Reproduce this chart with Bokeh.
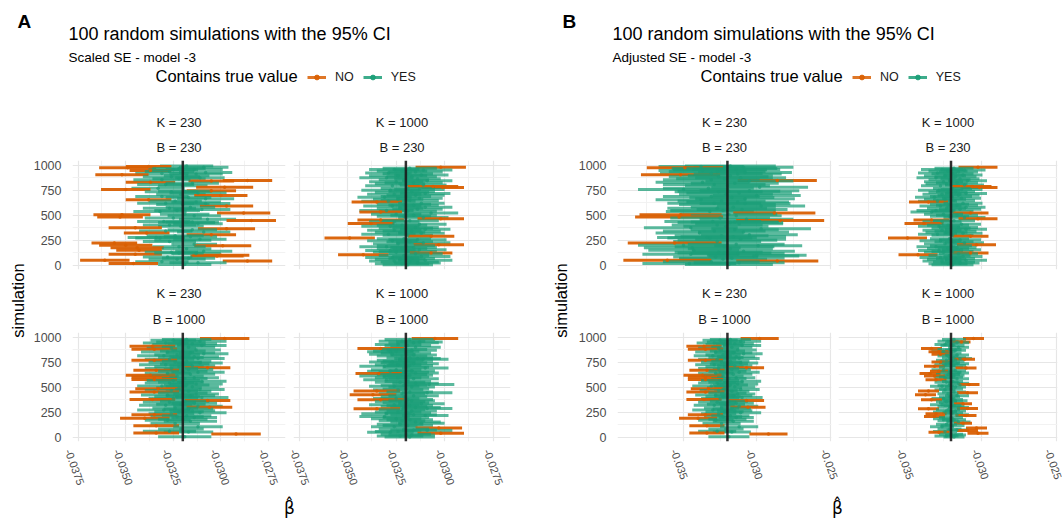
import numpy as np
from bokeh.plotting import figure
from bokeh.layouts import row, column
from bokeh.models import (ColumnDataSource, Range1d, FixedTicker, NumeralTickFormatter,
                          Span, Legend, LegendItem)
from bokeh.core.properties import value
from bokeh.embed import file_html
from bokeh.resources import INLINE

# ---------------------------------------------------------------- data
TRUE_VALUE = -0.0320
K_LEVELS = ["230", "1000", "230", "1000"]
B_LEVELS = ["230", "230", "1000", "1000"]
A_TICKS = [-0.0375, -0.0350, -0.0325, -0.0300, -0.0275]
A_MINOR = [-0.03625, -0.03375, -0.03125, -0.02875]
B_TICKS = [-0.035, -0.030, -0.025]
B_MINOR = [-0.0375, -0.0325, -0.0275]
Y_TICKS = [0, 250, 500, 750, 1000]
Y_MINOR = [125, 375, 625, 875]

# K = 230, B = 230
sim_k230_b230 = [995, 990, 982, 977, 970, 961, 950, 941, 930, 921, 907, 898, 888, 876, 866, 850, 845, 833, 822, 810,
                 798, 783, 772, 760, 748, 737, 725, 713, 700, 690, 679, 668, 657, 645, 634, 622, 610, 593, 582, 571,
                 560, 549, 538, 523, 512, 507, 496, 483, 474, 462, 450, 440, 428, 417, 405, 392, 377, 366, 355, 344,
                 333, 323, 307, 296, 285, 273, 262, 250, 238, 223, 212, 200, 196, 186, 177, 166, 150, 140, 130, 118,
                 110, 100, 93, 82, 71, 60, 50, 44, 35, 26, 17, 9, 958, 915, 858, 742, 618, 435, 279, 124]
est_k230_b230 = [-0.0318, -0.0338, -0.0309, -0.0349, -0.0322, -0.0314, -0.0337, -0.0327, -0.0308, -0.0331,
                 -0.0352, -0.0318, -0.0326, -0.0311, -0.0322, -0.0286, -0.0305, -0.0337, -0.0315, -0.0329,
                 -0.0320, -0.0298, -0.0333, -0.0350, -0.0305, -0.0326, -0.0312, -0.0321, -0.0300, -0.0331,
                 -0.0317, -0.0308, -0.0338, -0.0324, -0.0313, -0.0329, -0.0320, -0.0297, -0.0316, -0.0327,
                 -0.0310, -0.0323, -0.0332, -0.0288, -0.0319, -0.0352, -0.0314, -0.0353, -0.0325, -0.0307,
                 -0.0284, -0.0330, -0.0318, -0.0312, -0.0327, -0.0321, -0.0345, -0.0297, -0.0315, -0.0329,
                 -0.0309, -0.0339, -0.0305, -0.0324, -0.0316, -0.0332, -0.0311, -0.0320, -0.0327, -0.0356,
                 -0.0314, -0.0350, -0.0299, -0.0322, -0.0344, -0.0318, -0.0343, -0.0309, -0.0326, -0.0313,
                 -0.0345, -0.0300, -0.0302, -0.0328, -0.0317, -0.0323, -0.0361, -0.0286, -0.0331, -0.0312,
                 -0.0346, -0.0319, -0.0325, -0.0313, -0.0331, -0.0319, -0.0308, -0.0315, -0.0334, -0.0322]
half_scaled_k230_b230 = [.0014, .0012, .0013, .0015, .0014, .0015, .0011, .0013, .0014, .0014,
                         .0014, .0012, .0015, .0013, .0014, .0013, .0012, .0013, .0014, .0015,
                         .0013, .0015, .0014, .0013, .0013, .0014, .0015, .0013, .0014, .0014,
                         .0012, .0015, .0012, .0014, .0013, .0015, .0014, .0014, .0013, .0014,
                         .0015, .0012, .0014, .0014, .0013, .0015, .0014, .0012, .0015, .0015,
                         .0013, .0014, .0015, .0013, .0014, .0012, .0014, .0015, .0013, .0014,
                         .0014, .0012, .0013, .0015, .0014, .0013, .0014, .0015, .0014, .0012,
                         .0012, .0014, .0015, .0014, .0014, .0013, .0012, .0015, .0014, .0013,
                         .0014, .0015, .0014, .0013, .0014, .0015, .0013, .0013, .0014, .0015,
                         .0013, .0014, .0013, .0014, .0015, .0014, .0013, .0014, .0015, .0013]
half_adjusted_k230_b230 = [.0031, .0029, .0034, .0026, .0036, .0030, .0030, .0033, .0032, .0035,
                           .0027, .0029, .0034, .0031, .0033, .0027, .0030, .0032, .0030, .0035,
                           .0029, .0033, .0031, .0031, .0034, .0030, .0036, .0032, .0030, .0033,
                           .0029, .0034, .0031, .0030, .0035, .0032, .0033, .0030, .0029, .0034,
                           .0031, .0036, .0030, .0028, .0033, .0028, .0031, .0030, .0034, .0032,
                           .0030, .0033, .0036, .0030, .0031, .0029, .0032, .0034, .0030, .0035,
                           .0031, .0030, .0033, .0032, .0036, .0029, .0031, .0034, .0030, .0032,
                           .0033, .0031, .0030, .0034, .0033, .0029, .0031, .0035, .0030, .0032,
                           .0033, .0034, .0031, .0029, .0036, .0030, .0030, .0028, .0033, .0031,
                           .0032, .0030, .0032, .0030, .0033, .0035, .0031, .0030, .0034, .0032]

# K = 1000, B = 230
sim_k1000_b230 = [983, 972, 961, 955, 944, 936, 925, 917, 905, 896, 887, 876, 868, 858, 846, 838, 827, 816, 805, 797,
                  790, 780, 770, 760, 751, 740, 731, 720, 712, 701, 690, 681, 672, 661, 650, 641, 633, 622, 612, 601,
                  593, 582, 571, 562, 550, 541, 533, 523, 512, 502, 491, 480, 467, 455, 446, 437, 420, 411, 402, 391,
                  380, 372, 361, 351, 340, 331, 320, 310, 300, 290, 273, 265, 255, 246, 236, 226, 216, 207, 197, 187,
                  178, 168, 157, 148, 138, 130, 123, 115, 107, 98, 88, 78, 69, 60, 51, 42, 33, 24, 15, 6]
est_k1000_b230 = [-0.0302, -0.0318, -0.0326, -0.0311, -0.0322, -0.0315, -0.0329, -0.0319, -0.0312, -0.0324,
                  -0.0317, -0.0330, -0.0314, -0.0321, -0.0309, -0.0325, -0.0316, -0.0323, -0.0311, -0.0327,
                  -0.0306, -0.0301, -0.0319, -0.0313, -0.0328, -0.0317, -0.0322, -0.0310, -0.0326, -0.0315,
                  -0.0320, -0.0331, -0.0313, -0.0324, -0.0318, -0.0329, -0.0335, -0.0312, -0.0321, -0.0316,
                  -0.0327, -0.0310, -0.0323, -0.0314, -0.0330, -0.0319, -0.0333, -0.0307, -0.0325, -0.0316,
                  -0.0321, -0.0311, -0.0302, -0.0333, -0.0318, -0.0326, -0.0338, -0.0313, -0.0322, -0.0328,
                  -0.0315, -0.0320, -0.0310, -0.0326, -0.0317, -0.0323, -0.0312, -0.0329, -0.0319, -0.0307,
                  -0.0349, -0.0321, -0.0314, -0.0327, -0.0318, -0.0311, -0.0324, -0.0303, -0.0320, -0.0330,
                  -0.0316, -0.0322, -0.0313, -0.0328, -0.0319, -0.0325, -0.0307, -0.0315, -0.0342, -0.0321,
                  -0.0312, -0.0327, -0.0317, -0.0323, -0.0310, -0.0326, -0.0318, -0.0314, -0.0322, -0.0319]
half_scaled_k1000_b230 = [.0013, .0014, .0013, .0015, .0013, .0014, .0012, .0013, .0014, .0015,
                          .0013, .0014, .0012, .0013, .0013, .0014, .0015, .0013, .0012, .0014,
                          .0013, .0011, .0014, .0013, .0015, .0012, .0014, .0013, .0014, .0015,
                          .0013, .0014, .0012, .0013, .0015, .0014, .0013, .0012, .0014, .0013,
                          .0015, .0014, .0012, .0013, .0014, .0015, .0011, .0014, .0013, .0012,
                          .0014, .0013, .0012, .0012, .0015, .0013, .0012, .0014, .0013, .0015,
                          .0012, .0014, .0013, .0014, .0015, .0013, .0012, .0014, .0013, .0012,
                          .0013, .0014, .0015, .0013, .0012, .0014, .0013, .0013, .0015, .0014,
                          .0012, .0013, .0014, .0013, .0015, .0012, .0011, .0014, .0013, .0013,
                          .0015, .0014, .0012, .0013, .0014, .0013, .0015, .0012, .0014, .0013]
half_adjusted_k1000_b230 = [.0013, .0013, .0014, .0014, .0013, .0013, .0013, .0014, .0013, .0014,
                            .0014, .0013, .0013, .0014, .0013, .0013, .0014, .0014, .0013, .0013,
                            .0013, .0012, .0013, .0014, .0014, .0013, .0013, .0014, .0013, .0014,
                            .0014, .0013, .0013, .0014, .0014, .0013, .0013, .0013, .0013, .0014,
                            .0014, .0013, .0013, .0014, .0013, .0014, .0014, .0012, .0013, .0014,
                            .0013, .0014, .0013, .0012, .0014, .0013, .0013, .0013, .0014, .0014,
                            .0013, .0013, .0014, .0013, .0014, .0014, .0013, .0013, .0014, .0012,
                            .0013, .0013, .0014, .0014, .0013, .0013, .0014, .0013, .0014, .0013,
                            .0013, .0014, .0013, .0014, .0014, .0013, .0012, .0013, .0013, .0014,
                            .0013, .0014, .0013, .0013, .0014, .0013, .0014, .0013, .0013, .0014]

# K = 230, B = 1000
sim_k230_b1000 = [990, 981, 972, 963, 955, 946, 938, 929, 921, 913, 903, 893, 883, 874, 864, 855, 846, 836, 827, 818,
                  808, 799, 790, 781, 772, 763, 753, 744, 735, 726, 716, 707, 698, 689, 680, 671, 661, 652, 642, 632,
                  621, 613, 605, 596, 588, 580, 570, 561, 552, 543, 534, 524, 515, 506, 496, 487, 478, 470, 461, 453,
                  444, 434, 425, 416, 407, 398, 388, 379, 369, 360, 351, 341, 332, 322, 312, 302, 293, 284, 274, 265,
                  255, 246, 236, 225, 216, 207, 199, 191, 181, 171, 160, 139, 117, 106, 84, 61, 52, 44, 34, 5]
est_k230_b1000 = [-0.0298, -0.0318, -0.0325, -0.0311, -0.0321, -0.0329, -0.0315, -0.0322, -0.0310, -0.0336,
                  -0.0317, -0.0326, -0.0335, -0.0313, -0.0320, -0.0328, -0.0316, -0.0309, -0.0323, -0.0330,
                  -0.0314, -0.0321, -0.0312, -0.0327, -0.0335, -0.0318, -0.0324, -0.0311, -0.0319, -0.0329,
                  -0.0315, -0.0322, -0.0307, -0.0326, -0.0317, -0.0334, -0.0320, -0.0312, -0.0328, -0.0316,
                  -0.0337, -0.0323, -0.0335, -0.0314, -0.0319, -0.0335, -0.0325, -0.0310, -0.0321, -0.0327,
                  -0.0313, -0.0318, -0.0331, -0.0315, -0.0322, -0.0333, -0.0311, -0.0326, -0.0317, -0.0335,
                  -0.0320, -0.0313, -0.0328, -0.0316, -0.0323, -0.0310, -0.0325, -0.0336, -0.0307, -0.0319,
                  -0.0327, -0.0314, -0.0321, -0.0329, -0.0312, -0.0306, -0.0324, -0.0317, -0.0330, -0.0315,
                  -0.0322, -0.0311, -0.0326, -0.0335, -0.0318, -0.0323, -0.0314, -0.0340, -0.0320, -0.0328,
                  -0.0316, -0.0324, -0.0334, -0.0312, -0.0321, -0.0327, -0.0317, -0.0334, -0.0292, -0.0319]
half_scaled_k230_b1000 = [.0013, .0013, .0012, .0014, .0013, .0012, .0013, .0014, .0013, .0012,
                          .0014, .0013, .0012, .0013, .0012, .0014, .0013, .0013, .0012, .0014,
                          .0013, .0012, .0014, .0013, .0012, .0013, .0014, .0012, .0013, .0014,
                          .0012, .0013, .0012, .0014, .0013, .0012, .0013, .0014, .0012, .0013,
                          .0013, .0014, .0012, .0013, .0012, .0012, .0014, .0013, .0012, .0013,
                          .0014, .0012, .0013, .0014, .0012, .0012, .0013, .0014, .0012, .0013,
                          .0013, .0012, .0014, .0013, .0012, .0014, .0013, .0012, .0012, .0013,
                          .0014, .0012, .0013, .0014, .0013, .0012, .0012, .0013, .0014, .0012,
                          .0013, .0014, .0012, .0012, .0013, .0014, .0012, .0013, .0013, .0012,
                          .0014, .0013, .0012, .0013, .0012, .0014, .0013, .0012, .0013, .0014]
half_adjusted_k230_b1000 = [.0013, .0014, .0012, .0014, .0013, .0012, .0013, .0013, .0013, .0012,
                            .0014, .0014, .0012, .0013, .0012, .0014, .0013, .0013, .0012, .0013,
                            .0013, .0012, .0014, .0013, .0012, .0013, .0014, .0012, .0013, .0013,
                            .0012, .0013, .0012, .0014, .0013, .0012, .0013, .0014, .0012, .0013,
                            .0013, .0014, .0012, .0013, .0012, .0012, .0013, .0013, .0012, .0013,
                            .0014, .0012, .0013, .0014, .0012, .0012, .0013, .0013, .0012, .0013,
                            .0013, .0012, .0014, .0013, .0012, .0014, .0013, .0012, .0012, .0013,
                            .0013, .0012, .0013, .0014, .0013, .0012, .0012, .0013, .0014, .0012,
                            .0013, .0014, .0012, .0012, .0013, .0013, .0012, .0013, .0013, .0012,
                            .0014, .0013, .0012, .0013, .0012, .0013, .0013, .0012, .0013, .0014]

# K = 1000, B = 1000
sim_k1000_b1000 = [990, 980, 963, 956, 947, 929, 920, 902, 889, 880, 871, 863, 856, 845, 832, 824, 815, 797, 789, 782,
                   772, 763, 755, 746, 737, 728, 719, 711, 703, 695, 677, 668, 661, 652, 645, 638, 630, 622, 614, 605,
                   596, 587, 577, 560, 551, 541, 530, 521, 512, 503, 485, 476, 463, 455, 446, 436, 426, 417, 407, 389,
                   380, 376, 366, 357, 346, 336, 327, 318, 308, 298, 289, 285, 275, 264, 254, 244, 235, 226, 218, 208,
                   198, 187, 176, 165, 153, 141, 130, 118, 106, 94, 83, 74, 67, 58, 50, 40, 31, 22, 12, 4]
est_k1000_b1000 = [-0.0305, -0.0318, -0.0322, -0.0313, -0.0316, -0.0324, -0.0319, -0.0315, -0.0333, -0.0321,
                   -0.0317, -0.0325, -0.0328, -0.0320, -0.0327, -0.0316, -0.0322, -0.0318, -0.0314, -0.0311,
                   -0.0323, -0.0319, -0.0327, -0.0321, -0.0316, -0.0324, -0.0318, -0.0331, -0.0320, -0.0310,
                   -0.0325, -0.0317, -0.0328, -0.0321, -0.0315, -0.0334, -0.0322, -0.0318, -0.0331, -0.0320,
                   -0.0324, -0.0316, -0.0330, -0.0319, -0.0323, -0.0315, -0.0308, -0.0321, -0.0326, -0.0317,
                   -0.0320, -0.0324, -0.0335, -0.0318, -0.0309, -0.0322, -0.0337, -0.0316, -0.0321, -0.0325,
                   -0.0319, -0.0333, -0.0317, -0.0323, -0.0320, -0.0312, -0.0326, -0.0318, -0.0321, -0.0315,
                   -0.0309, -0.0335, -0.0322, -0.0317, -0.0324, -0.0319, -0.0330, -0.0316, -0.0310, -0.0331,
                   -0.0320, -0.0325, -0.0318, -0.0322, -0.0315, -0.0312, -0.0323, -0.0319, -0.0326, -0.0303,
                   -0.0321, -0.0316, -0.0309, -0.0324, -0.0328, -0.0302, -0.0320, -0.0317, -0.0323, -0.0318]
half_scaled_k1000_b1000 = [.0012, .0013, .0012, .0012, .0013, .0012, .0012, .0013, .0012, .0012,
                           .0013, .0012, .0012, .0013, .0012, .0012, .0013, .0012, .0012, .0013,
                           .0012, .0013, .0012, .0012, .0013, .0012, .0012, .0013, .0012, .0012,
                           .0013, .0012, .0012, .0013, .0012, .0012, .0013, .0012, .0013, .0012,
                           .0012, .0013, .0012, .0012, .0013, .0012, .0013, .0012, .0013, .0012,
                           .0012, .0013, .0012, .0012, .0013, .0012, .0012, .0013, .0012, .0012,
                           .0013, .0012, .0012, .0013, .0012, .0012, .0013, .0012, .0012, .0013,
                           .0013, .0012, .0012, .0013, .0012, .0012, .0013, .0012, .0012, .0013,
                           .0012, .0013, .0012, .0012, .0013, .0012, .0012, .0013, .0012, .0012,
                           .0013, .0012, .0013, .0012, .0012, .0012, .0013, .0012, .0012, .0013]
half_adjusted_k1000_b1000 = [.0007, .0008, .0007, .0006, .0008, .0007, .0008, .0007, .0007, .0008,
                             .0007, .0008, .0007, .0007, .0006, .0008, .0007, .0008, .0008, .0007,
                             .0007, .0008, .0006, .0007, .0008, .0007, .0008, .0007, .0008, .0007,
                             .0008, .0007, .0006, .0008, .0007, .0007, .0008, .0007, .0007, .0008,
                             .0007, .0008, .0007, .0007, .0008, .0007, .0007, .0008, .0008, .0007,
                             .0008, .0007, .0007, .0008, .0007, .0007, .0007, .0008, .0007, .0008,
                             .0007, .0007, .0008, .0007, .0008, .0006, .0008, .0007, .0008, .0007,
                             .0007, .0007, .0008, .0007, .0008, .0007, .0007, .0008, .0007, .0007,
                             .0008, .0007, .0008, .0007, .0008, .0006, .0007, .0008, .0008, .0007,
                             .0008, .0007, .0007, .0008, .0007, .0007, .0008, .0007, .0008, .0007]

SIMS = [sim_k230_b230, sim_k1000_b230, sim_k230_b1000, sim_k1000_b1000]
ESTS = [est_k230_b230, est_k1000_b230, est_k230_b1000, est_k1000_b1000]
HALF_SCALED = [half_scaled_k230_b230, half_scaled_k1000_b230, half_scaled_k230_b1000, half_scaled_k1000_b1000]
HALF_ADJUSTED = [half_adjusted_k230_b230, half_adjusted_k1000_b230, half_adjusted_k230_b1000, half_adjusted_k1000_b1000]
for group in (SIMS, ESTS, HALF_SCALED, HALF_ADJUSTED):
    for arr in group:
        assert len(arr) == 100, len(arr)

# ---------------------------------------------------------------- style
GREEN = "#1B9E77"
ORANGE = "#D95F02"
FONT = "Liberation Sans"
TICK_COL = "#4D4D4D"
TEXT_COL = "#1A1A1A"
NAN = float("nan")
LABEL_NUDGE_PX = 6   # rotated x tick labels sit centred under their tick, as in the reference

PANELS = [
    dict(letter="A", subtitle="Scaled SE - model -3", halves=HALF_SCALED,
         xr=(-0.0378, -0.0266), ticks=A_TICKS, minor=A_MINOR, fmt="0.0000",
         ylab_w=30, ylab_cx=17, widths=[259, 242], bl=[38, 4], br=[4, 21], frame_w=217,
         ax_widths=[259, 242], ax_bl=[38, 4], ax_br=[4, 21], ax_shift=[0, 0],
         letter_x=17, title_x=68, leg_title_x=155, leg_x=307, xlab_cx=289),
    dict(letter="B", subtitle="Adjusted SE - model -3", halves=HALF_ADJUSTED,
         xr=(-0.0395, -0.0249), ticks=B_TICKS, minor=B_MINOR, fmt="0.000",
         ylab_w=44, ylab_cx=29, widths=[259, 228], bl=[37, 4], br=[3, 5], frame_w=219,
         ax_widths=[275, 212], ax_bl=[37, 0], ax_br=[19, 5], ax_shift=[0, 12],
         letter_x=31, title_x=81, leg_title_x=169, leg_x=321, xlab_cx=306),
]
PW = 531
STRIP_H = [44, 46]          # strip heights (top row, bottom row)
STRIP_K_Y = [12, 13]        # centre of "K = ..." from strip top
STRIP_B_Y = [37, 39]        # centre of "B = ..." from strip top
FACET_H = [126, 120]


def blank(width, height):
    p = figure(width=width, height=height, x_range=Range1d(0, width), y_range=Range1d(0, height),
               output_backend="svg", toolbar_location=None, title=None,
               x_axis_location=None, y_axis_location=None, min_border=0)
    p.grid.visible = False
    p.outline_line_color = None
    return p


def put_text(p, x, y, text, size, style="normal", align="left", baseline="alphabetic",
             angle=0.0, color="black", font=FONT):
    p.text(x=[x], y=[y], text=[text], text_font=value(font), text_font_size=size,
           text_font_style=style, text_align=align, text_baseline=baseline,
           angle=angle, text_color=color)


def header(spec):
    h = 110
    p = blank(PW, h)
    put_text(p, spec["letter_x"], h - 21, spec["letter"], "19px", style="bold")
    put_text(p, spec["title_x"], h - 33.8, "100 random simulations with the 95% CI", "18px")
    put_text(p, spec["title_x"], h - 57.2, spec["subtitle"], "13.5px")
    put_text(p, spec["leg_title_x"], h - 75.8, "Contains true value", "16.5px")
    items = []
    for lab, col in (("NO", ORANGE), ("YES", GREEN)):
        seg = p.segment(x0=[NAN], y0=[NAN], x1=[NAN], y1=[NAN], line_color=col,
                        line_width=3, line_alpha=0.85)
        dot = p.scatter(x=[NAN], y=[NAN], size=4, fill_color=col, line_color=col, alpha=0.9)
        items.append(LegendItem(label=lab, renderers=[seg, dot]))
    leg = Legend(items=items, orientation="horizontal", location=(spec["leg_x"], 26),
                 glyph_width=19, glyph_height=12, label_standoff=9, spacing=9,
                 padding=0, margin=0, border_line_color=None, background_fill_alpha=0,
                 label_text_font=FONT, label_text_font_size="12.5px", label_text_color=TEXT_COL,
                 label_width=0, label_height=12)
    p.add_layout(leg)
    return p


def style_axis(ax):
    ax.axis_line_color = None
    ax.major_tick_line_color = None
    ax.minor_tick_line_color = None
    ax.major_tick_in = 0
    ax.major_tick_out = 0
    ax.major_label_text_font = FONT
    ax.major_label_text_color = TICK_COL


def strip(spec, i):
    """Facet strip: a plot whose frame lines up exactly with the facet frame below it."""
    r, c = divmod(i, 2)
    w, h, fw = spec["widths"][c], STRIP_H[r], spec["frame_w"]
    p = figure(width=w, height=h, x_range=Range1d(0, fw), y_range=Range1d(0, h),
               output_backend="svg", toolbar_location=None, title=None,
               x_axis_location=None, y_axis_location=None,
               min_border_left=spec["bl"][c], min_border_right=spec["br"][c],
               min_border_top=0, min_border_bottom=0)
    p.grid.visible = False
    p.outline_line_color = None
    put_text(p, fw / 2, h - STRIP_K_Y[r], f"K = {K_LEVELS[i]}", "13px", align="center",
             baseline="middle", color=TEXT_COL)
    put_text(p, fw / 2, h - STRIP_B_Y[r], f"B = {B_LEVELS[i]}", "13px", align="center",
             baseline="middle", color=TEXT_COL)
    return p


def facet(spec, i):
    r, c = divmod(i, 2)
    sims, est, half = SIMS[i], ESTS[i], spec["halves"][i]
    lo = [e - w for e, w in zip(est, half)]
    hi = [e + w for e, w in zip(est, half)]
    covers = [a <= TRUE_VALUE <= b for a, b in zip(lo, hi)]
    src = ColumnDataSource(dict(
        sim=sims, est=est, lo=lo, hi=hi,
        color=[GREEN if k else ORANGE for k in covers],
        alpha=[0.72 if k else 0.95 for k in covers]))
    p = figure(width=spec["widths"][c], height=FACET_H[r],
               x_range=Range1d(*spec["xr"]), y_range=Range1d(-42, 1050),
               output_backend="svg", toolbar_location=None, title=None,
               min_border_left=spec["bl"][c], min_border_right=spec["br"][c],
               min_border_top=6, min_border_bottom=[11, 5][r])
    p.outline_line_color = None
    xt = FixedTicker(ticks=spec["ticks"], minor_ticks=spec["minor"])
    yt = FixedTicker(ticks=Y_TICKS, minor_ticks=Y_MINOR)
    p.xaxis.ticker = xt
    p.xgrid.ticker = xt
    p.yaxis.ticker = yt
    p.ygrid.ticker = yt
    for g in (p.xgrid, p.ygrid):
        g.grid_line_color = "#E6E6E6"
        g.grid_line_width = 1.2
        g.minor_grid_line_color = "#F0F0F0"
        g.minor_grid_line_width = 0.9
    style_axis(p.xaxis)
    style_axis(p.yaxis)
    p.yaxis.major_label_text_font_size = "12.5px"
    p.yaxis.major_label_standoff = 7
    p.xaxis.visible = False
    if c == 1:
        p.yaxis.visible = False

    p.segment(x0="lo", y0="sim", x1="hi", y1="sim", line_color="color", line_alpha="alpha",
              line_width=3, source=src)
    p.scatter(x="est", y="sim", size=3.5, fill_color="color", line_color=None,
              fill_alpha="alpha", source=src)
    p.add_layout(Span(location=TRUE_VALUE, dimension="height", line_color="#1A1A1A",
                      line_width=2.5, line_alpha=0.9))
    return column(strip(spec, i), p)


def x_axis_strip(spec, c):
    """Bottom x axis of one facet column; same scale as the facet, frame widened to the left."""
    x0, x1 = spec["xr"]
    per_px = (x1 - x0) / spec["frame_w"]
    nudge = LABEL_NUDGE_PX * per_px
    ext = min(spec["ax_bl"][c], 10)
    start = x0 + (spec["ax_shift"][c] - ext) * per_px + nudge
    end = x1 + nudge
    p = figure(width=spec["ax_widths"][c], height=44,
               x_range=Range1d(start, end), y_range=Range1d(0, 1),
               output_backend="svg", toolbar_location=None, title=None, y_axis_location=None,
               min_border_left=spec["ax_bl"][c] - ext, min_border_right=spec["ax_br"][c],
               min_border_top=0, min_border_bottom=41)
    p.outline_line_color = None
    p.grid.visible = False
    p.xaxis.ticker = FixedTicker(ticks=spec["ticks"])
    style_axis(p.xaxis)
    p.xaxis.formatter = NumeralTickFormatter(format=spec["fmt"])
    p.xaxis.major_label_text_font_size = "11px"
    p.xaxis.major_label_orientation = -1.22
    p.xaxis.major_label_standoff = 0
    return p


def panel(spec):
    head = header(spec)
    ylab = blank(spec["ylab_w"], 380)
    put_text(ylab, spec["ylab_cx"], 190, "simulation", "16.5px", align="center",
             baseline="middle", angle=np.pi / 2)
    f = [facet(spec, i) for i in range(4)]
    axes = [x_axis_strip(spec, c) for c in range(2)]
    grid = column(row(f[0], f[1]), row(f[2], f[3]), row(axes[0], axes[1]))
    xlab = blank(PW, 33)
    put_text(xlab, spec["xlab_cx"], 33 - 17.5, "β̂", "17px", align="center", font="DejaVu Sans")
    return column(head, row(ylab, grid), xlab)


layout = row(panel(PANELS[0]), panel(PANELS[1]))

with open("out.html", "w") as fh:
    fh.write(file_html(layout, INLINE))
